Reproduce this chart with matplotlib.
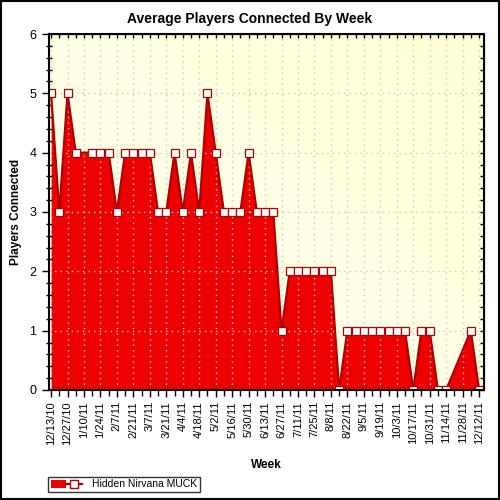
import matplotlib
matplotlib.use('Agg')
import matplotlib.pyplot as plt
import numpy as np
from matplotlib.patches import Patch, Rectangle
from matplotlib.lines import Line2D
from matplotlib.colors import LinearSegmentedColormap
from matplotlib.legend_handler import HandlerTuple

plt.rcParams['font.family'] = ['Liberation Sans', 'DejaVu Sans']

weeks = ['12/13/10', '12/20/10', '12/27/10', '1/3/11', '1/10/11', '1/17/11', '1/24/11',
         '1/31/11', '2/7/11', '2/14/11', '2/21/11', '2/28/11', '3/7/11', '3/14/11',
         '3/21/11', '3/28/11', '4/4/11', '4/11/11', '4/18/11', '4/25/11', '5/2/11',
         '5/9/11', '5/16/11', '5/23/11', '5/30/11', '6/6/11', '6/13/11', '6/20/11',
         '6/27/11', '7/4/11', '7/11/11', '7/18/11', '7/25/11', '8/1/11', '8/8/11',
         '8/15/11', '8/22/11', '8/29/11', '9/5/11', '9/12/11', '9/19/11', '9/26/11',
         '10/3/11', '10/10/11', '10/17/11', '10/24/11', '10/31/11', '11/7/11',
         '11/14/11', '11/21/11', '11/28/11', '12/5/11', '12/12/11']

players = [5, 3, 5, 4, None, 4, 4, 4, 3, 4,
           4, 4, 4, 3, 3, 4, 3, 4, 3, 5,
           4, 3, 3, 3, 4, 3, 3, 3, 1, 2,
           2, 2, 2, 2, 2, 0, 1, 1, 1, 1,
           1, 1, 1, 1, 0, 1, 1, 0, 0, None,
           None, 1, 0]

series_name = 'Hidden Nirvana MUCK'

idx = np.array([i for i, v in enumerate(players) if v is not None], dtype=float)
vals = np.array([v for v in players if v is not None], dtype=float)

fig = plt.figure(figsize=(5, 5), dpi=100)
ax = fig.add_axes([0.098, 0.22, 0.870, 0.712])

xmin, xmax = -0.25, 52.6
ymin, ymax = 0, 6

# background gradient
cmap = LinearSegmentedColormap.from_list('bg', ['#FFFFF6', '#FFFFD4'])
gx, gy = np.meshgrid(np.linspace(0, 1, 200), np.linspace(0, 1, 200))
grad = (gx + gy) / 2.0
ax.imshow(grad, cmap=cmap, origin='lower', extent=[xmin, xmax, ymin, ymax],
          aspect='auto', zorder=0, interpolation='bilinear')

ax.fill_between(idx, vals, 0, color='#EC0000', zorder=2, linewidth=0)
ax.plot(idx, vals, color='#B00000', linewidth=1.6, zorder=3)
ax.plot(idx, vals, linestyle='none', marker='s', markersize=6,
        markerfacecolor='white', markeredgecolor='#B00000', markeredgewidth=0.9, zorder=4)

ax.set_xlim(xmin, xmax)
ax.set_ylim(ymin, ymax)

major_x = list(range(0, len(weeks), 2))
ax.set_xticks(major_x)
ax.set_xticklabels([weeks[i] for i in major_x], rotation=90, fontsize=8)
ax.set_xticks(range(len(weeks)), minor=True)
ax.set_yticks(range(0, 7))
ax.set_yticklabels([str(i) for i in range(0, 7)], fontsize=9)
ax.set_yticks(np.arange(0, 6.01, 0.2), minor=True)

ax.tick_params(axis='x', which='major', direction='out', length=5, width=1, pad=3)
ax.tick_params(axis='x', which='minor', direction='out', length=4, width=1)
ax.tick_params(axis='y', which='major', direction='out', length=5, width=1, pad=4)
ax.tick_params(axis='y', which='minor', direction='inout', length=5, width=1)

for s in ax.spines.values():
    s.set_linewidth(1.5)
    s.set_color('black')
    s.set_zorder(6)

ax.grid(True, which='major', color='#C8C8C8', linestyle=(0, (1, 3)), linewidth=1, zorder=1)
ax.set_axisbelow(False)
for gl in ax.get_xgridlines() + ax.get_ygridlines():
    gl.set_zorder(1)

top = ax.secondary_xaxis('top')
top.set_xticks(range(len(weeks)))
top.set_xticklabels([])
top.tick_params(direction='in', length=3, width=1)
right = ax.secondary_yaxis('right')
right.set_yticks(np.arange(0, 6.01, 0.2))
right.set_yticklabels([])
right.tick_params(direction='in', length=3, width=1)

fig.text(0.5, 0.963, 'Average Players Connected By Week', ha='center', va='center',
         fontsize=10, fontweight='bold')
fig.text(0.032, 0.576, 'Players Connected', rotation=90, ha='center', va='center',
         fontsize=8.5, fontweight='bold')
fig.text(0.532, 0.071, 'Week', ha='center', va='center', fontsize=8.5, fontweight='bold')

handle = (Patch(facecolor='#EC0000', edgecolor='none'),
          Line2D([], [], color='#B00000', linewidth=1.6, marker='s', markersize=5.5,
                 markerfacecolor='white', markeredgecolor='#B00000'))
leg = fig.legend([handle], [series_name], loc='lower left',
                 bbox_to_anchor=(0.096, 0.016), fontsize=7.5, frameon=True,
                 fancybox=False, edgecolor='black', handlelength=3.0, handleheight=0.8,
                 borderpad=0.25, handletextpad=1.0, borderaxespad=0,
                 handler_map={tuple: HandlerTuple(ndivide=None, pad=0)})
leg.get_frame().set_linewidth(1.0)

fig.patches.append(Rectangle((0.002, 0.002), 0.996, 0.996, transform=fig.transFigure,
                             fill=False, edgecolor='black', linewidth=1.5, zorder=10))

fig.savefig('out.png', dpi=100)
